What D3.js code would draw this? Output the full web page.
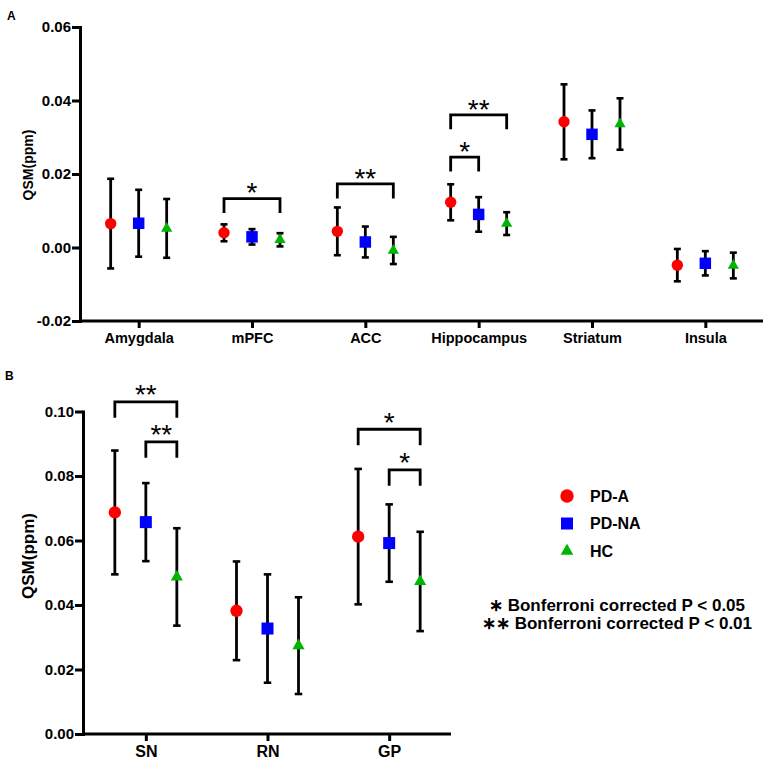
<!DOCTYPE html>
<html><head><meta charset="utf-8">
<script src="https://cdn.jsdelivr.net/npm/d3@7"></script>
<style>
body{margin:0;background:#fff}
svg{display:block;font-family:"Liberation Sans",Arial,Helvetica,sans-serif}
</style>
</head><body>
<svg id="c" width="767" height="764"></svg>
<script>
// ---------- data ----------
const groups = ["PD-A", "PD-NA", "HC"];
const groupColors = ["#ff0000", "#0000ff", "#00b400"];

const categoriesA = ["Amygdala", "mPFC", "ACC", "Hippocampus", "Striatum", "Insula"];
const meanA_PDA  = [0.0065, 0.0040, 0.0044, 0.0123, 0.0342, -0.0048];
const sdA_PDA    = [0.0122, 0.0023, 0.0065, 0.0049, 0.0102, 0.0044];
const meanA_PDNA = [0.0066, 0.0029, 0.0015, 0.0090, 0.0308, -0.0043];
const sdA_PDNA   = [0.0091, 0.0021, 0.0042, 0.0047, 0.0065, 0.0033];
const meanA_HC   = [0.0052, 0.0021, -0.0008, 0.0065, 0.0336, -0.0049];
const sdA_HC     = [0.0080, 0.0018, 0.0037, 0.0031, 0.0070, 0.0035];
const ticksA = [-0.02, 0.00, 0.02, 0.04, 0.06];

const categoriesB = ["SN", "RN", "GP"];
const meanB_PDA  = [0.0687, 0.0382, 0.0612];
const sdB_PDA    = [0.0192, 0.0153, 0.0210];
const meanB_PDNA = [0.0657, 0.0327, 0.0592];
const sdB_PDNA   = [0.0121, 0.0168, 0.0120];
const meanB_HC   = [0.0487, 0.0274, 0.0473];
const sdB_HC     = [0.0151, 0.0150, 0.0154];
const ticksB = [0.00, 0.02, 0.04, 0.06, 0.08, 0.10];

// significance brackets: category, group indices, bracket level (data units), label
const sigA = [
  {cat: "mPFC", from: 0, to: 2, level: 0.0133, label: "*"},
  {cat: "ACC", from: 0, to: 2, level: 0.0173, label: "**"},
  {cat: "Hippocampus", from: 0, to: 1, level: 0.0246, label: "*"},
  {cat: "Hippocampus", from: 0, to: 2, level: 0.0361, label: "**"}
];
const sigB = [
  {cat: "SN", from: 0, to: 2, level: 0.1030, label: "**"},
  {cat: "SN", from: 1, to: 2, level: 0.0906, label: "**"},
  {cat: "GP", from: 0, to: 2, level: 0.0945, label: "*"},
  {cat: "GP", from: 1, to: 2, level: 0.0819, label: "*"}
];
const yLabel = "QSM(ppm)";
const notes = ["\u2217 Bonferroni corrected P < 0.05", "\u2217\u2217 Bonferroni corrected P < 0.01"];

// ---------- drawing ----------
const svg = d3.select("#c");
svg.append("rect").attr("width", 767).attr("height", 764).attr("fill", "#fff");
const symbolTypes = [d3.symbolCircle, d3.symbolSquare, d3.symbolTriangle];

function panel(o) {
  const g = svg.append("g");
  const y = d3.scaleLinear().domain(o.yDomain).range(o.yRange);
  const x = d3.scalePoint().domain(o.cats).range(o.xRange).padding(0.5);

  // y axis
  const ya = d3.axisLeft(y).tickValues(o.ticks).tickFormat(d => d.toFixed(2))
    .tickSize(8).tickSizeOuter(0).tickPadding(1);
  const yg = g.append("g").attr("transform", `translate(${o.x0},0)`).call(ya);
  yg.select(".domain").attr("stroke", "#000").attr("stroke-width", 3).attr("stroke-linecap", "square");
  yg.selectAll(".tick line").attr("stroke", "#000").attr("stroke-width", 3);
  yg.selectAll(".tick text").attr("fill", "#000").attr("font-size", o.tickFont).attr("font-weight", "bold")
    .attr("font-family", '"Liberation Sans",Arial,sans-serif');

  // x axis
  const xa = d3.axisBottom(x).tickSize(7).tickSizeOuter(0).tickPadding(5);
  const xg = g.append("g").attr("transform", `translate(0,${o.yRange[0]})`).call(xa);
  xg.select(".domain").remove();
  xg.append("line").attr("x1", o.x0).attr("x2", o.xEnd).attr("y1", 0).attr("y2", 0)
    .attr("stroke", "#000").attr("stroke-width", 3);
  xg.selectAll(".tick line").attr("stroke", "#000").attr("stroke-width", 3);
  xg.selectAll(".tick text").attr("fill", "#000").attr("font-size", o.catFont).attr("font-weight", "bold")
    .attr("font-family", '"Liberation Sans",Arial,sans-serif');

  // y label
  g.append("text").attr("transform", `translate(${o.labelX},${o.labelY}) rotate(-90)`)
    .attr("text-anchor", "middle").attr("dominant-baseline", "central")
    .attr("font-size", o.labelFont).attr("font-weight", "bold").text(yLabel);

  // panel letter
  g.append("text").attr("x", o.letterX).attr("y", o.letterY).attr("font-size", 12)
    .attr("font-weight", "bold").text(o.letter);

  // error bars & markers
  o.series.forEach((s, gi) => {
    const pts = o.cats.map((c, ci) => ({c, m: s.mean[ci], sd: s.sd[ci]}));
    const gg = g.append("g");
    const cx = d => x(d.c) + o.offsets[gi];
    gg.selectAll("line.bar").data(pts).join("line").attr("class", "bar")
      .attr("x1", cx).attr("x2", cx)
      .attr("y1", d => y(d.m - d.sd)).attr("y2", d => y(d.m + d.sd))
      .attr("stroke", "#000").attr("stroke-width", 2.8);
    ["lo", "hi"].forEach(k => {
      gg.selectAll("line.cap" + k).data(pts).join("line").attr("class", "cap" + k)
        .attr("x1", d => cx(d) - o.capW / 2).attr("x2", d => cx(d) + o.capW / 2)
        .attr("y1", d => y(k === "lo" ? d.m - d.sd : d.m + d.sd))
        .attr("y2", d => y(k === "lo" ? d.m - d.sd : d.m + d.sd))
        .attr("stroke", "#000").attr("stroke-width", 2.6);
    });
    gg.selectAll("path.mk").data(pts).join("path").attr("class", "mk")
      .attr("transform", d => `translate(${cx(d)},${y(d.m)})`)
      .attr("d", d3.symbol().type(symbolTypes[gi]).size(o.symSizes[gi]))
      .attr("fill", groupColors[gi]);
  });

  // significance brackets
  o.sig.forEach(b => {
    const xl = x(b.cat) + o.offsets[b.from], xr = x(b.cat) + o.offsets[b.to];
    const yl = y(b.level);
    g.append("path").attr("d", `M${xl},${yl + o.leg}V${yl}H${xr}V${yl + o.leg}`)
      .attr("fill", "none").attr("stroke", "#000").attr("stroke-width", 2.8);
    g.append("text").attr("x", (xl + xr) / 2).attr("y", yl - o.starGap + 0.575 * 28)
      .attr("text-anchor", "middle").attr("font-size", 28).text(b.label);
  });
}

panel({
  cats: categoriesA,
  series: [{mean: meanA_PDA, sd: sdA_PDA}, {mean: meanA_PDNA, sd: sdA_PDNA}, {mean: meanA_HC, sd: sdA_HC}],
  ticks: ticksA, yDomain: [-0.02, 0.06], yRange: [321, 27],
  xRange: [82, 762], x0: 80, xEnd: 763, offsets: [-28, 0, 28],
  tickFont: 15, catFont: 14.5, labelFont: 14, labelX: 28, labelY: 165,
  letter: "A", letterX: 7, letterY: 20,
  capW: 7, symSizes: [102, 132, 55], sig: sigA, leg: 14.5, starGap: 12.3
});

panel({
  cats: categoriesB,
  series: [{mean: meanB_PDA, sd: sdB_PDA}, {mean: meanB_PDNA, sd: sdB_PDNA}, {mean: meanB_HC, sd: sdB_HC}],
  ticks: ticksB, yDomain: [0, 0.10], yRange: [734, 411.5],
  xRange: [85, 450], x0: 83, xEnd: 451, offsets: [-31, 0, 31],
  tickFont: 15, catFont: 16, labelFont: 17, labelX: 28, labelY: 556,
  letter: "B", letterX: 5, letterY: 380,
  capW: 7.5, symSizes: [120, 144, 64], sig: sigB, leg: 16, starGap: 13.5
});

// legend
const lg = svg.append("g");
groups.forEach((name, i) => {
  const yy = 496 + i * 27.5;
  lg.append("path").attr("transform", `translate(567,${yy})`)
    .attr("d", d3.symbol().type(symbolTypes[i]).size([140, 144, 70][i]))
    .attr("fill", groupColors[i]);
  lg.append("text").attr("x", 590).attr("y", yy).attr("dominant-baseline", "central")
    .attr("font-size", 16).attr("font-weight", "bold").text(name);
});
notes.forEach((t, i) => {
  lg.append("text").attr("x", 617).attr("y", 610.5 + i * 18.7).attr("text-anchor", "middle")
    .attr("font-size", 17).attr("font-weight", "bold").text(t);
});
</script>
</body></html>
